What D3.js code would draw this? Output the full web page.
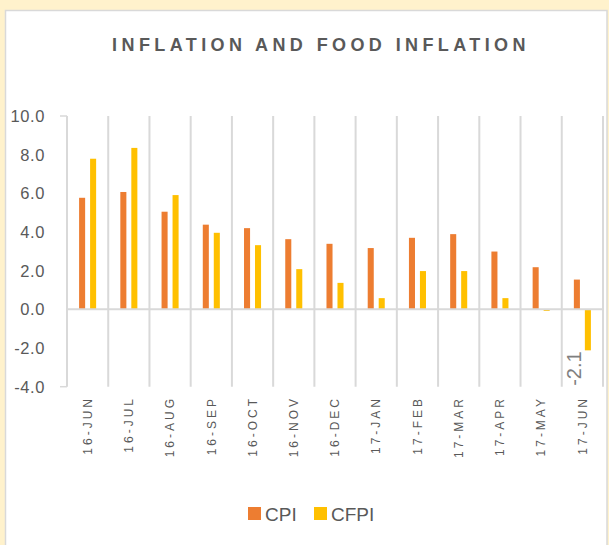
<!DOCTYPE html>
<html>
<head>
<meta charset="utf-8">
<script src="https://cdn.jsdelivr.net/npm/d3@7"></script>
<style>
    body { margin: 0; background: #fff2cc; }
    svg { display: block; }
    text { font-family: "Liberation Sans", Arial, sans-serif; fill: #595959; }
</style>
</head>
<body>
<div class="chart"></div>
<script>
'use strict';

const months = ['16-JUN', '16-JUL', '16-AUG', '16-SEP', '16-OCT', '16-NOV', '16-DEC',
    '17-JAN', '17-FEB', '17-MAR', '17-APR', '17-MAY', '17-JUN'];
const cpi = [5.77, 6.07, 5.05, 4.38, 4.20, 3.63, 3.39, 3.17, 3.70, 3.89, 2.99, 2.18, 1.54];
const cfpi = [7.79, 8.35, 5.91, 3.96, 3.32, 2.08, 1.37, 0.58, 1.98, 1.98, 0.58, -0.08, -2.12];
const seriesNames = ['CPI', 'CFPI'];
const yTicks = [-4, -2, 0, 2, 4, 6, 8, 10];

const W = 609, H = 545;
const colors = {CPI: '#ed7d31', CFPI: '#ffc000'};
const grid = '#d9d9d9';

const plot = {left: 67, right: 603, top: 116, bottom: 386.7};

const svg = d3.select('.chart').append('svg')
    .attr('width', W)
    .attr('height', H);

svg.append('rect')
    .attr('width', W).attr('height', H)
    .attr('fill', '#fff2cc');

// white chart panel
svg.append('rect')
    .attr('x', 5.5).attr('y', 10.5)
    .attr('width', 601.5).attr('height', 560)
    .attr('fill', '#fff')
    .attr('stroke', grid)
    .attr('stroke-width', 1.5);

svg.append('text')
    .attr('x', 321).attr('y', 51)
    .attr('text-anchor', 'middle')
    .style('font-size', '18px')
    .style('font-weight', 'bold')
    .style('letter-spacing', '4.4px')
    .text('INFLATION AND FOOD INFLATION');

const xScale = d3.scaleBand()
    .domain(months)
    .range([plot.left, plot.right])
    .padding(0);

const subScale = d3.scaleBand()
    .domain(seriesNames)
    .range([0, xScale.bandwidth()])
    .paddingInner(0.45)
    .paddingOuter(1.1);

const yScale = d3.scaleLinear()
    .domain([-4, 10])
    .range([plot.bottom, plot.top]);

// vertical gridlines at category boundaries
const bounds = months.map(m => xScale(m)).concat([plot.right]);
svg.append('g')
    .selectAll('line')
    .data(bounds)
    .join('line')
    .attr('x1', d => d).attr('x2', d => d)
    .attr('y1', plot.top).attr('y2', plot.bottom)
    .attr('stroke', grid)
    .attr('stroke-width', 2);

// y axis tick marks at the ends
svg.append('g')
    .selectAll('line')
    .data([-4, 10])
    .join('line')
    .attr('x1', plot.left - 7).attr('x2', plot.left)
    .attr('y1', d => yScale(d)).attr('y2', d => yScale(d))
    .attr('stroke', grid)
    .attr('stroke-width', 1.5);

// y labels
svg.append('g')
    .selectAll('text')
    .data(yTicks)
    .join('text')
    .attr('x', 45)
    .attr('y', d => yScale(d))
    .attr('dy', '0.36em')
    .attr('text-anchor', 'end')
    .style('font-size', '16.5px')
    .style('letter-spacing', '0.6px')
    .text(d => d.toFixed(1));

// bars
const rows = months.map((m, i) => ({month: m, CPI: cpi[i], CFPI: cfpi[i]}));
const groups = svg.append('g')
    .selectAll('g')
    .data(rows)
    .join('g')
    .attr('transform', d => `translate(${xScale(d.month)},0)`);

groups.selectAll('rect')
    .data(d => seriesNames.map(s => ({key: s, value: d[s]})))
    .join('rect')
    .attr('x', d => subScale(d.key))
    .attr('width', subScale.bandwidth())
    .attr('y', d => yScale(Math.max(0, d.value)))
    .attr('height', d => Math.max(1, Math.abs(yScale(d.value) - yScale(0))))
    .attr('fill', d => colors[d.key]);

// zero line
svg.append('line')
    .attr('x1', plot.left).attr('x2', plot.right)
    .attr('y1', yScale(0)).attr('y2', yScale(0))
    .attr('stroke', grid)
    .attr('stroke-width', 2);

// data label for last CFPI value
const last = months.length - 1;
svg.append('text')
    .attr('transform', `translate(${xScale(months[last]) + subScale('CFPI') - 4},${yScale(cfpi[last]) + 1}) rotate(-90)`)
    .attr('text-anchor', 'end')
    .style('font-size', '20px')
    .style('fill', '#7f7f7f')
    .text(cfpi[last].toFixed(1));

// category labels
svg.append('g')
    .selectAll('text')
    .data(months)
    .join('text')
    .attr('transform', d => `translate(${xScale(d) + xScale.bandwidth() / 2},396) rotate(-90)`)
    .attr('text-anchor', 'end')
    .attr('dy', '0.35em')
    .style('font-size', '12px')
    .style('letter-spacing', '3px')
    .text(d => d);

// legend
const legend = svg.append('g')
    .attr('transform', 'translate(248,507)');
const items = legend.selectAll('g')
    .data(seriesNames)
    .join('g')
    .attr('transform', (d, i) => `translate(${i * 66},0)`);
items.append('rect')
    .attr('width', 13).attr('height', 13)
    .attr('fill', d => colors[d]);
items.append('text')
    .attr('x', 17).attr('y', 14)
    .style('font-size', '19px')
    .text(d => d);
</script>
</body>
</html>
